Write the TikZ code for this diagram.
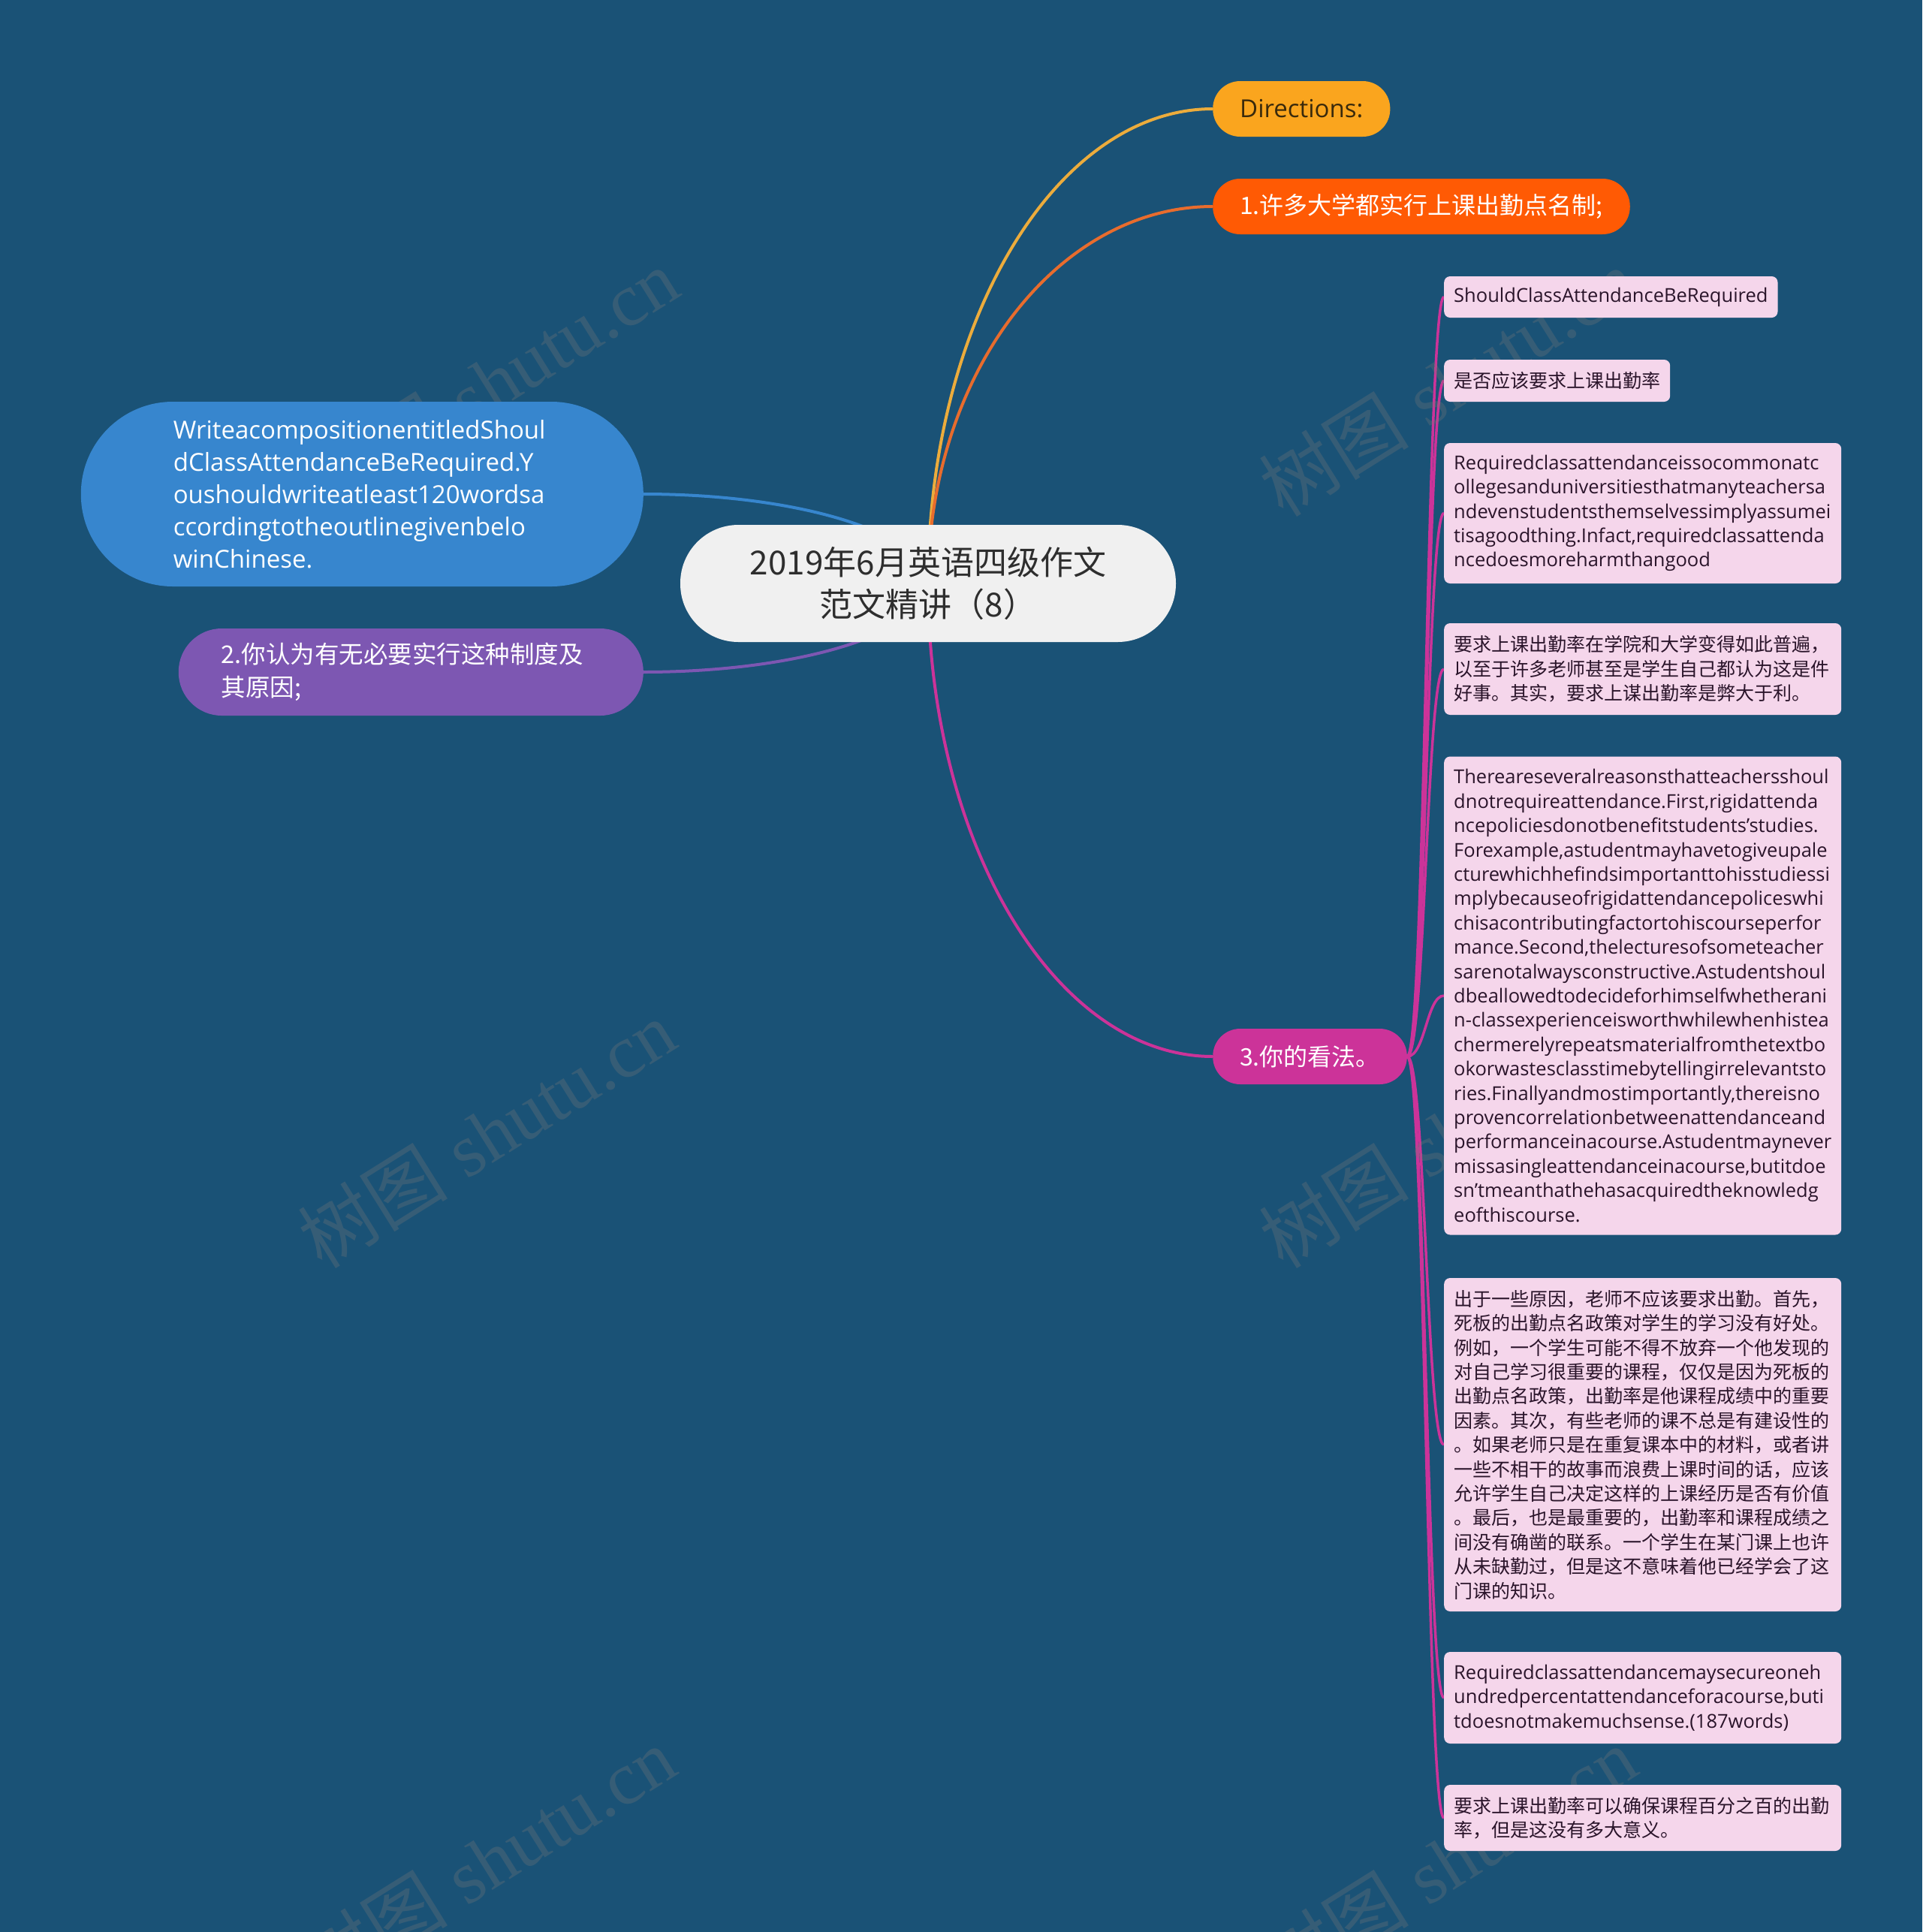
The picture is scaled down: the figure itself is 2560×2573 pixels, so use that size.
\documentclass[tikz,border=0pt]{standalone}
\usepackage{fontspec}
\setmainfont{Open Sans}
\newfontfamily\cjk{Noto Sans CJK SC}
\newfontfamily\wmlat{Liberation Serif}
\hyphenpenalty=10000
\exhyphenpenalty=10000
\usetikzlibrary{calc}
\definecolor{bgc}{RGB}{26,82,118}
\definecolor{rootfill}{RGB}{240,240,240}
\definecolor{roottext}{RGB}{46,46,46}
\definecolor{amber}{RGB}{250,165,30}
\definecolor{amberline}{RGB}{236,172,60}
\definecolor{ambertext}{RGB}{58,42,12}
\definecolor{orng}{RGB}{255,90,4}
\definecolor{orngline}{RGB}{232,108,45}
\definecolor{bluen}{RGB}{55,134,206}
\definecolor{purp}{RGB}{125,87,178}
\definecolor{mag}{RGB}{204,51,153}
\definecolor{leaffill}{RGB}{245,214,235}
\definecolor{leaftext}{RGB}{42,20,42}
\definecolor{wmc}{RGB}{120,120,120}
\pgfdeclarelayer{back}
\pgfdeclarelayer{edges}
\pgfsetlayers{back,edges,main}
\begin{document}
\begin{tikzpicture}[x=1pt,y=-1pt,
  rootnode/.style={fill=rootfill,text=roottext,rounded corners=77.5pt,minimum width=660pt,minimum height=156pt,align=center,inner sep=4pt,font={\cjk\fontsize{44pt}{56pt}\selectfont}},
  branch/.style={rounded corners=36.5pt,minimum height=74pt,inner xsep=36pt,inner ysep=4pt,font={\fontsize{33pt}{40pt}\selectfont}},
  leaf/.style={fill=leaffill,text=leaftext,rounded corners=8pt,anchor=west,inner xsep=13pt,inner ysep=4pt,align=left,font={\fontsize{25.5pt}{32.4pt}\selectfont}},
  cjkleaf/.style={font={\cjk\fontsize{25pt}{32.4pt}\selectfont}},
  wide/.style={text width=503pt},
  mainline/.style={line width=4pt},
  subline/.style={line width=3.5pt,draw=mag},
  wm/.style={text=wmc,opacity=0.3,rotate=32,font={\fontsize{100pt}{110pt}\selectfont}}
]
\begin{pgfonlayer}{back}
\fill[bgc] (0,0) rectangle (2560,2573);
\end{pgfonlayer}
\useasboundingbox (0,0) rectangle (2560,2573);

% root
\node[rootnode] (root) at (1236,777) {2019年6月英语四级作文\\范文精讲（8）};

% right branches
\node[branch,anchor=west,fill=amber,text=ambertext] (dir) at (1615,145) {Directions:};
\node[branch,anchor=west,fill=orng,text=white,font={\cjk\fontsize{32pt}{40pt}\selectfont}] (n1) at (1615,275) {1.许多大学都实行上课出勤点名制;};
\node[branch,anchor=west,fill=mag,text=white,font={\cjk\fontsize{32pt}{40pt}\selectfont}] (n3) at (1615,1407) {3.你的看法。};

% left branches
\node[fill=bluen,text=white,anchor=east,text width=503pt,inner xsep=123pt,inner ysep=4pt,minimum height=246pt,rounded corners=122.5pt,align=left,font={\fontsize{33pt}{43pt}\selectfont}] (blue) at (857,658)
 {WriteacompositionentitledShoul\\dClassAttendanceBeRequired.Y\\oushouldwriteatleast120wordsa\\ccordingtotheoutlinegivenbelo\\winChinese.};
\node[fill=purp,text=white,anchor=east,text width=505pt,inner xsep=57pt,inner ysep=4pt,minimum height=116pt,rounded corners=57.5pt,align=left,font={\cjk\fontsize{32.5pt}{44pt}\selectfont}] (n2) at (857,895)
 {2.你认为有无必要实行这种制度及\\其原因;};

% leaves
\node[leaf,minimum height=55pt] (l1) at (1923,395.5) {ShouldClassAttendanceBeRequired};
\node[leaf,cjkleaf,minimum height=56pt] (l2) at (1923,507) {是否应该要求上课出勤率};
\node[leaf,wide,minimum height=187pt] (l3) at (1923,683.5) {Requiredclassattendanceissocommonatc\\ollegesanduniversitiesthatmanyteachersa\\ndevenstudentsthemselvessimplyassumei\\tisagoodthing.Infact,requiredclassattenda\\ncedoesmoreharmthangood};
\node[leaf,cjkleaf,wide,minimum height=122pt] (l4) at (1923,891) {要求上课出勤率在学院和大学变得如此普遍，\\以至于许多老师甚至是学生自己都认为这是件\\好事。其实，要求上谋出勤率是弊大于利。};
\node[leaf,wide,minimum height=637pt] (l5) at (1923,1326) {Thereareseveralreasonsthatteachersshoul\\dnotrequireattendance.First,rigidattenda\\ncepoliciesdonotbenefitstudents'studies.\\Forexample,astudentmayhavetogiveupale\\cturewhichhefindsimportanttohisstudiessi\\mplybecauseofrigidattendancepoliceswhi\\chisacontributingfactortohiscourseperfor\\mance.Second,thelecturesofsometeacher\\sarenotalwaysconstructive.Astudentshoul\\dbeallowedtodecideforhimselfwhetherani\\n-classexperienceisworthwhilewhenhistea\\chermerelyrepeatsmaterialfromthetextbo\\okorwastesclasstimebytellingirrelevantsto\\ries.Finallyandmostimportantly,thereisno\\provencorrelationbetweenattendanceand\\performanceinacourse.Astudentmaynever\\missasingleattendanceinacourse,butitdoe\\sn'tmeanthathehasacquiredtheknowledg\\eofthiscourse.};
\node[leaf,cjkleaf,wide,minimum height=444pt] (l6) at (1923,1924) {出于一些原因，老师不应该要求出勤。首先，\\死板的出勤点名政策对学生的学习没有好处。\\例如，一个学生可能不得不放弃一个他发现的\\对自己学习很重要的课程，仅仅是因为死板的\\出勤点名政策，出勤率是他课程成绩中的重要\\因素。其次，有些老师的课不总是有建设性的\\。如果老师只是在重复课本中的材料，或者讲\\一些不相干的故事而浪费上课时间的话，应该\\允许学生自己决定这样的上课经历是否有价值\\。最后，也是最重要的，出勤率和课程成绩之\\间没有确凿的联系。一个学生在某门课上也许\\从未缺勤过，但是这不意味着他已经学会了这\\门课的知识。};
\node[leaf,wide,minimum height=122pt] (l7) at (1923,2261) {Requiredclassattendancemaysecureoneh\\undredpercentattendanceforacourse,buti\\tdoesnotmakemuchsense.(187words)};
\node[leaf,cjkleaf,wide,minimum height=88pt] (l8) at (1923,2421) {要求上课出勤率可以确保课程百分之百的出勤\\率，但是这没有多大意义。};

% connectors
\begin{pgfonlayer}{edges}
\draw[mainline,draw=amberline] (root.center) .. controls +(0,-348) and +(-209,0) .. (dir.west);
\draw[mainline,draw=orngline] (root.center) .. controls +(0,-276) and +(-209,0) .. (n1.west);
\draw[mainline,draw=mag] (root.center) .. controls +(0,347) and +(-209,0) .. (n3.west);
\draw[mainline,draw=bluen] (root.center) .. controls +(0,-66) and +(209,0) .. (blue.east);
\draw[mainline,draw=purp] (root.center) .. controls +(0,65) and +(209,0) .. (n2.east);
\foreach \l in {l1,l2,l3,l4,l5,l6,l7,l8}{
  \draw[subline] (n3.east) .. controls +(24,0) and +(-23,0) .. (\l.west);
}
\end{pgfonlayer}

% watermarks
\begin{pgfonlayer}{edges}
\node[wm] (wm1) at (652,509) {{\cjk 树图} \wmlat shutu.cn};
\node[wm] (wm2) at (1928,509) {{\cjk 树图} \wmlat shutu.cn};
\node[wm] (wm3) at (648,1510) {{\cjk 树图} \wmlat shutu.cn};
\node[wm] (wm4) at (1928,1510) {{\cjk 树图} \wmlat shutu.cn};
\node[wm] (wm5) at (648,2478) {{\cjk 树图} \wmlat shutu.cn};
\node[wm] (wm6) at (1928,2478) {{\cjk 树图} \wmlat shutu.cn};
\end{pgfonlayer}
\end{tikzpicture}
\end{document}
